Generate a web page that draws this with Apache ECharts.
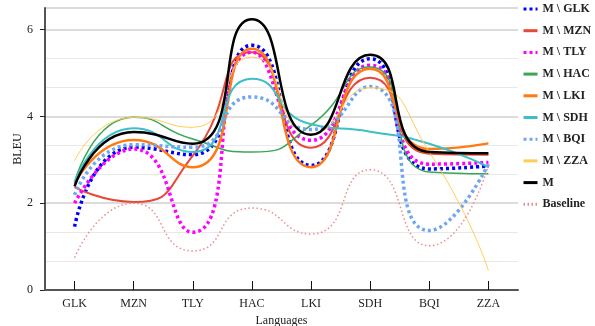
<!DOCTYPE html>
<html>
<head>
<meta charset="UTF-8">
<title>BLEU per language</title>
<style>
  html, body { margin: 0; padding: 0; background: #fff; }
  #main { width: 595px; height: 326px; }
</style>
</head>
<body>
<div id="main"></div>
<script src="https://cdn.jsdelivr.net/npm/echarts@6/dist/echarts.min.js"></script>
<script>
// languages on the x axis
var languages = ['GLK', 'MZN', 'TLY', 'HAC', 'LKI', 'SDH', 'BQI', 'ZZA'];

// BLEU values
var mGlk = [1.46, 3.29, 3.12, 5.64, 2.87, 5.33, 2.79, 2.86];
var mMzn = [2.37, 2.03, 3.10, 5.48, 3.28, 4.89, 3.14, 3.12];
var mTly = [2.00, 3.25, 1.33, 5.48, 3.45, 5.18, 2.90, 2.94];
var mHac = [2.48, 3.98, 3.48, 3.18, 3.80, 5.14, 2.72, 2.68];
var mLki = [2.45, 3.46, 2.83, 5.56, 2.83, 5.10, 3.25, 3.38];
var mSdh = [2.48, 3.73, 3.18, 4.87, 3.82, 3.65, 3.37, 2.83];
var mBqi = [2.19, 3.35, 3.29, 4.45, 3.70, 4.69, 1.37, 2.90];
var mZza = [2.98, 3.98, 3.75, 5.37, 3.60, 4.66, 3.18, 0.45];
var mAll = [2.39, 3.64, 3.37, 6.24, 3.58, 5.42, 3.18, 3.15];
var baseline = [0.75, 2.00, 0.90, 1.89, 1.29, 2.77, 1.02, 2.87];

var font = 'Liberation Serif';

// name, data, colour, width, dash
var lines = [
  ['M \\ GLK', mGlk, '#0000ff', 3.5, [3, 3]],
  ['M \\ MZN', mMzn, '#e8473a', 2, 'solid'],
  ['M \\ TLY', mTly, '#ff00ff', 3.5, [3, 3]],
  ['M \\ HAC', mHac, '#3aa655', 1.5, 'solid'],
  ['M \\ LKI', mLki, '#ff7a12', 2.5, 'solid'],
  ['M \\ SDH', mSdh, '#3cbfc6', 2, 'solid'],
  ['M \\ BQI', mBqi, '#6fa6f2', 3.5, [3, 3]],
  ['M \\ ZZA', mZza, '#ffcc55', 1, 'solid'],
  ['M', mAll, '#000000', 2.5, 'solid'],
  ['Baseline', baseline, '#ee8c8c', 1.5, [1.5, 2.5]]
];

var seriesList = lines.map(function (l) {
  return {
    name: l[0],
    type: 'line',
    data: l[1],
    smooth: 0.6,
    symbol: 'none',
    color: l[2],
    lineStyle: { color: l[2], width: l[3], type: l[4], cap: 'butt' }
  };
});

var myChart = echarts.init(document.getElementById('main'));
var option = {
  animation: false,
  textStyle: { fontFamily: font },
  grid: { left: 45, right: 77, top: 8, bottom: 36, outerBoundsMode: 'none' },
  legend: {
    orient: 'vertical',
    left: 522,
    top: 3,
    padding: 0,
    itemWidth: 14,
    itemHeight: 12,
    itemGap: 9.7,
    itemStyle: { opacity: 0 },
    lineStyle: { width: 3 },
    textStyle: { fontFamily: font, fontWeight: 'bold', fontSize: 12, color: '#222' },
    data: lines.map(function (l) { return l[0]; })
  },
  xAxis: {
    type: 'category',
    data: languages,
    boundaryGap: true,
    name: 'Languages',
    nameLocation: 'middle',
    nameGap: 25,
    nameMoveOverlap: false,
    nameTextStyle: { fontFamily: font, fontSize: 12, color: '#222' },
    axisLine: { lineStyle: { color: '#555', width: 2 } },
    axisTick: { show: true, alignWithLabel: true, inside: true, length: 9, lineStyle: { color: '#111', width: 1 } },
    axisLabel: { fontFamily: font, fontSize: 12, color: '#222', margin: 8 },
    z: 10
  },
  yAxis: {
    type: 'value',
    min: 0,
    max: 6.5,
    interval: 2,
    name: 'BLEU',
    nameLocation: 'middle',
    nameGap: 21,
    nameMoveOverlap: false,
    nameTextStyle: { fontFamily: font, fontSize: 12, color: '#222' },
    axisLine: { show: true, lineStyle: { color: '#555', width: 2 } },
    axisTick: { show: true, length: 5, lineStyle: { color: '#222' } },
    axisLabel: { fontFamily: font, fontSize: 12, color: '#222', margin: 12, showMaxLabel: false },
    splitLine: { lineStyle: { color: '#dcdcdc', width: 2 } },
    minorTick: { show: false, splitNumber: 3 },
    minorSplitLine: { show: true, lineStyle: { color: '#e8e8e8', width: 1 } }
  },
  series: seriesList
};
myChart.setOption(option);
</script>
</body>
</html>
